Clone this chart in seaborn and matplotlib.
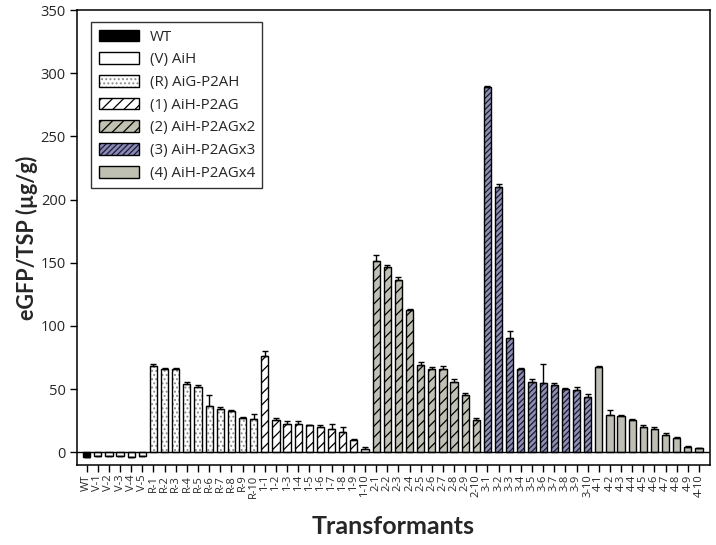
import matplotlib
matplotlib.use("Agg")
import matplotlib.pyplot as plt
import numpy as np
import pandas as pd
import seaborn as sns
from matplotlib.patches import Patch

# ---------------- data ----------------
groups = ["WT", "(V) AiH", "(R) AiG-P2AH", "(1) AiH-P2AG",
          "(2) AiH-P2AGx2", "(3) AiH-P2AGx3", "(4) AiH-P2AGx4"]

labels_wt = ["WT"]
labels_v = ["V-1", "V-2", "V-3", "V-4", "V-5"]
labels_r = ["R-1", "R-2", "R-3", "R-4", "R-5", "R-6", "R-7", "R-8", "R-9", "R-10"]
labels_1 = ["1-1", "1-2", "1-3", "1-4", "1-5", "1-6", "1-7", "1-8", "1-9", "1-10"]
labels_2 = ["2-1", "2-2", "2-3", "2-4", "2-5", "2-6", "2-7", "2-8", "2-9", "2-10"]
labels_3 = ["3-1", "3-2", "3-3", "3-4", "3-5", "3-6", "3-7", "3-8", "3-9", "3-10"]
labels_4 = ["4-1", "4-2", "4-3", "4-4", "4-5", "4-6", "4-7", "4-8", "4-9", "4-10"]

values_wt = [-4]
values_v = [-3, -3, -3, -4, -3]
values_r = [68, 66, 66, 54, 52, 37, 34.5, 33, 27.5, 26.5]
values_1 = [76, 25.3, 22.1, 22.1, 21.3, 19.7, 18.4, 16.1, 10.1, 2.9]
values_2 = [151.6, 147, 136.7, 113, 69, 65.6, 65.6, 56, 45, 25.3]
values_3 = [289, 209.6, 90.3, 66.3, 55.6, 55, 53.2, 50.3, 49.2, 44]
values_4 = [67.7, 29.8, 28.7, 25.3, 20, 18.2, 13.4, 11.6, 4.5, 3.2]

errors_wt = [0]
errors_v = [0, 0, 0, 0, 0]
errors_r = [2, 0.6, 0.6, 1.5, 1, 8, 1, 0.6, 0.8, 4]
errors_1 = [4, 2, 2.6, 2.6, 0.6, 2.1, 3.9, 3.7, 0.6, 1.3]
errors_2 = [4.4, 1.5, 2, 0.8, 2.3, 1.8, 2.6, 1.9, 1.9, 1.8]
errors_3 = [0.6, 2.4, 5.5, 0.6, 2.6, 15, 2, 0.6, 2.6, 2]
errors_4 = [0.6, 3.6, 0.6, 0.8, 1.9, 1.5, 1.9, 0.6, 0.6, 0.6]

all_labels = [labels_wt, labels_v, labels_r, labels_1, labels_2, labels_3, labels_4]
all_values = [values_wt, values_v, values_r, values_1, values_2, values_3, values_4]
all_errors = [errors_wt, errors_v, errors_r, errors_1, errors_2, errors_3, errors_4]

rows = []
for g, labs, vals, errs in zip(groups, all_labels, all_values, all_errors):
    for l, v, e in zip(labs, vals, errs):
        rows.append({"label": l, "value": v, "err": e, "group": g})
df = pd.DataFrame(rows)

# ---------------- styles ----------------
face = {
    groups[0]: "#000000",
    groups[1]: "#ffffff",
    groups[2]: "#ffffff",
    groups[3]: "#ffffff",
    groups[4]: "#c2c2b2",
    groups[5]: "#8a8ab4",
    groups[6]: "#c0c0b2",
}
hatch = {
    groups[0]: None, groups[1]: None, groups[2]: "....",
    groups[3]: "///", groups[4]: "///", groups[5]: "//////", groups[6]: None,
}
hatch_col = {
    groups[2]: (0.55, 0.55, 0.55, 1.0),
    groups[3]: (0, 0, 0, 1.0),
    groups[4]: (0, 0, 0, 1.0),
    groups[5]: (0.1, 0.1, 0.22, 1.0),
}

sns.set_theme(style="white")
plt.rcParams["font.family"] = ["Open Sans", "DejaVu Sans"]
plt.rcParams["hatch.linewidth"] = 0.9

fig = plt.figure(figsize=(7.16, 5.45), dpi=100)
ax = fig.add_axes([77 / 716, 1 - 465 / 545, 633 / 716, 455 / 545])

sns.barplot(data=df, x="label", y="value", hue="group", hue_order=groups,
            palette=face, dodge=False, width=0.65, edgecolor="black",
            linewidth=1.0, legend=False, ax=ax, order=list(df["label"]))

for cont, g in zip(ax.containers, groups):
    for p in cont:
        if hatch[g]:
            p.set_hatch(hatch[g])
            p._hatch_color = hatch_col[g]

xpos = np.arange(len(df))
ax.errorbar(xpos, df["value"], yerr=[np.zeros(len(df)), df["err"]],
            fmt="none", ecolor="black", elinewidth=1.0, capsize=2.5,
            capthick=1.0, zorder=5)

ax.axhline(0, color="black", lw=1.0, zorder=6)

ax.set_xlim(-0.87, len(df) - 0.01)
ax.set_ylim(-10, 350)
ax.set_yticks(range(0, 351, 50))
ax.set_xticks(xpos)
ax.set_xticklabels(df["label"], rotation=90, fontsize=8)
ax.tick_params(axis="y", labelsize=10.5, length=5, width=1, direction="out",
               left=True, color="black", pad=3)
ax.tick_params(axis="x", length=5, width=1, direction="out", bottom=True,
               color="black", pad=2)
for s in ax.spines.values():
    s.set_color("black")
    s.set_linewidth(1.1)

ax.set_xlabel("Transformants", fontsize=18, fontweight="bold",
              family=["Lato", "DejaVu Sans"], labelpad=12)
ax.set_ylabel("eGFP/TSP (µg/g)", fontsize=15.5, fontweight="bold",
              family=["Lato", "DejaVu Sans"], labelpad=2)

handles = []
for g in groups:
    h = Patch(facecolor=face[g], edgecolor="black", linewidth=1.0,
              hatch=hatch[g])
    if hatch[g]:
        h._hatch_color = hatch_col[g]
    handles.append(h)
leg = ax.legend(handles, groups, loc="upper left",
                bbox_to_anchor=(14 / 633, 1 - 12 / 455), borderaxespad=0,
                fontsize=10.8, frameon=True, fancybox=False, edgecolor="black",
                handlelength=2.7, handleheight=0.85, handletextpad=0.7,
                labelspacing=0.5, borderpad=0.5)
leg.get_frame().set_linewidth(1.0)

fig.savefig("out.png", dpi=100)
